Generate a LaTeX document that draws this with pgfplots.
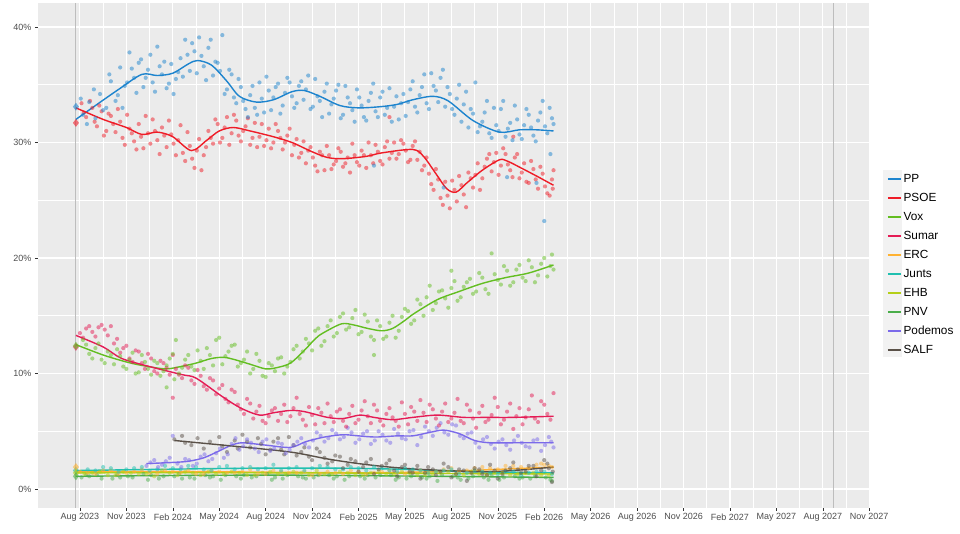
\documentclass[border=0pt]{standalone}
\usepackage{pgfplots}
\pgfplotsset{compat=1.18}
\usepackage{fontspec}
\setmainfont{Liberation Sans}
\definecolor{PP}{HTML}{1D84CE}
\definecolor{PSOE}{HTML}{EF1C27}
\definecolor{Vox}{HTML}{63BE21}
\definecolor{Sumar}{HTML}{E51C55}
\definecolor{ERC}{HTML}{FFB232}
\definecolor{Junts}{HTML}{20C0B0}
\definecolor{EHB}{HTML}{B5CF18}
\definecolor{PNV}{HTML}{4AAE4A}
\definecolor{Podemos}{HTML}{7B6AEA}
\definecolor{SALF}{HTML}{5A5148}
\definecolor{panel}{HTML}{EBEBEB}
\definecolor{keybg}{HTML}{F2F2F2}
\definecolor{ticklab}{HTML}{4D4D4D}
\definecolor{tickcol}{HTML}{333333}
\definecolor{elec}{HTML}{BDBDBD}
\pgfplotsset{
  pts/.style={only marks, mark=*, mark size=2.1pt, color=#1, forget plot,
    mark options={draw opacity=0, fill=#1, fill opacity=0.5}},
  big/.style={only marks, mark=diamond*, mark size=4pt, color=#1, forget plot,
    mark options={draw opacity=0, fill=#1, fill opacity=0.6}},
  trend/.style={color=#1, line width=1.4pt, smooth, tension=0.5, no marks, forget plot},
}
\begin{document}
\begin{tikzpicture}
\path[use as bounding box] (-38pt,-26pt) rectangle (922pt,508pt);
\fill[keybg] (845pt,151pt) rectangle (864pt,338pt);
\begin{axis}[
  at={(0pt,0pt)}, anchor=south west,
  scale only axis, width=832pt, height=505pt,
  xmin=4.29, xmax=58.05, ymin=-1.645, ymax=42.08,
  axis background/.style={fill=panel},
  axis line style={draw=none},
  grid=both,
  major grid style={white, line width=1.1pt},
  minor grid style={white, line width=0.55pt},
  minor tick num=1,
  minor tick length=0pt,
  major tick length=3pt,
  tick align=outside,
  tick pos=left,
  tick style={tickcol, line width=0.5pt},
  xtick={7,10,13,16,19,22,25,28,31,34,37,40,43,46,49,52,55,58},
  xticklabels={Aug 2023,Nov 2023,Feb 2024,May 2024,Aug 2024,Nov 2024,Feb 2025,May 2025,Aug 2025,Nov 2025,Feb 2026,May 2026,Aug 2026,Nov 2026,Feb 2027,May 2027,Aug 2027,Nov 2027},
  ytick={0,10,20,30,40},
  yticklabels={0\%,10\%,20\%,30\%,40\%},
  ticklabel style={font=\fontsize{9}{10}\selectfont, text=ticklab},
  xticklabel style={yshift=1pt},
  legend style={at={(1.0204,0.663)}, anchor=north west, draw=none, fill=none,
    inner sep=0pt, row sep=7.5pt, column sep=2pt,
    nodes={inner sep=0pt, text height=9pt, text depth=2.5pt},
    font=\fontsize{11.8}{13}\selectfont},
  legend cell align=left,
  legend image code/.code={\draw[#1] (0pt,0pt) -- (13pt,0pt);},
]
% election lines
\addplot[elec, line width=0.9pt, forget plot] coordinates {(6.74,-1.645) (6.74,42.08)};
\addplot[elec, line width=0.9pt, forget plot] coordinates {(55.68,-1.645) (55.68,42.08)};

% ---------- scatter: small parties ----------
\addplot[pts=PNV] coordinates {(7.1,1.0)(8.1,1.2)(9.1,0.9)(10.1,1.1)(11.1,1.3)(12.1,0.9)(13.1,1.1)(14.1,1.0)(15.1,1.2)(16.1,0.8)(17.1,1.1)(18.1,1.0)(19.1,1.3)(20.1,0.9)(21.1,1.1)(22.1,1.0)(23.1,1.2)(24.1,0.8)(25.1,1.1)(26.1,1.0)(27.1,1.2)(28.1,0.9)(29.1,1.0)(30.1,0.7)(31.1,1.1)(32.1,0.9)(33.1,1.0)(34.1,0.8)(35.1,1.1)(36.1,0.9)(37.1,1.0)(37.5,0.7)(7.6,1.1)(9.6,1.0)(11.6,1.2)(13.6,0.9)(15.6,1.1)(17.6,1.2)(19.6,1.0)(21.6,0.9)(23.6,1.1)(25.6,1.2)(27.6,1.0)(29.6,1.1)(31.6,0.8)(33.6,1.2)(35.6,1.0)(7.4,1.2)(8.4,0.9)(9.4,1.2)(10.4,1.0)(11.4,0.8)(12.4,1.1)(13.4,1.3)(14.4,0.9)(15.4,1.0)(16.4,1.2)(17.4,0.9)(18.4,1.1)(19.4,0.8)(20.4,1.2)(21.4,1.0)(22.4,1.2)(23.4,0.9)(24.4,1.1)(25.4,0.9)(26.4,1.2)(27.4,0.8)(28.4,1.1)(29.4,0.9)(30.4,1.2)(31.4,1.0)(32.4,1.1)(33.4,0.8)(34.4,1.0)(35.4,0.9)(36.4,1.1)(37.4,0.8)};
\addplot[pts=EHB] coordinates {(7.3,1.3)(8.3,1.5)(9.3,1.2)(10.3,1.4)(11.3,1.3)(12.3,1.6)(13.3,1.2)(14.3,1.4)(15.3,1.5)(16.3,1.3)(17.3,1.4)(18.3,1.2)(19.3,1.5)(20.3,1.3)(21.3,1.4)(22.3,1.6)(23.3,1.3)(24.3,1.4)(25.3,1.2)(26.3,1.5)(27.3,1.3)(28.3,1.4)(29.3,1.2)(30.3,1.4)(31.3,1.3)(32.3,1.5)(33.3,1.2)(34.3,1.4)(35.3,1.3)(36.3,1.4)(37.3,1.2)(7.8,1.4)(8.8,1.2)(9.8,1.5)(10.8,1.3)(11.8,1.1)(12.8,1.4)(13.8,1.5)(14.8,1.2)(15.8,1.3)(16.8,1.5)(17.8,1.2)(18.8,1.4)(19.8,1.3)(20.8,1.5)(21.8,1.2)(22.8,1.3)(23.8,1.5)(24.8,1.2)(25.8,1.4)(26.8,1.3)(27.8,1.5)(28.8,1.2)(29.8,1.3)(30.8,1.5)(31.8,1.2)(32.8,1.3)(33.8,1.4)(34.8,1.2)(35.8,1.4)(36.8,1.2)};
\addplot[pts=ERC] coordinates {(7.0,1.5)(8.0,1.3)(9.0,1.6)(10.0,1.4)(11.0,1.7)(12.0,1.3)(13.0,1.5)(14.0,1.6)(15.0,1.3)(16.0,1.5)(17.0,1.4)(18.0,1.7)(19.0,1.3)(20.0,1.5)(21.0,1.4)(22.0,1.2)(23.0,1.5)(24.0,1.3)(25.0,1.5)(26.0,1.4)(27.0,1.6)(28.0,1.3)(29.0,1.6)(30.0,1.5)(31.0,1.8)(32.0,1.6)(33.0,1.9)(34.0,1.7)(35.0,2.0)(36.0,1.8)(37.0,2.1)(37.5,1.9)(33.5,1.8)(34.5,2.0)(35.5,1.9)(36.5,2.1)(7.5,1.4)(8.5,1.6)(9.5,1.3)(10.5,1.5)(11.5,1.4)(12.5,1.6)(13.5,1.4)(14.5,1.3)(15.5,1.6)(16.5,1.4)(17.5,1.5)(18.5,1.3)(19.5,1.6)(20.5,1.4)(21.5,1.5)(22.5,1.3)(23.5,1.4)(24.5,1.6)(25.5,1.3)(26.5,1.5)(27.5,1.4)(28.5,1.5)(29.5,1.4)(30.5,1.7)(31.5,1.5)(32.5,1.8)(36.8,2.2)(37.3,2.0)};
\addplot[pts=Junts] coordinates {(7.5,1.7)(8.5,1.9)(9.5,1.5)(10.5,1.8)(11.5,1.6)(12.5,2.0)(13.5,1.7)(14.5,1.9)(15.5,1.6)(16.5,2.0)(17.5,1.8)(18.5,1.7)(19.5,2.1)(20.5,1.8)(21.5,1.6)(22.5,2.0)(23.5,1.7)(24.5,1.9)(25.5,1.6)(26.5,1.8)(27.5,1.5)(28.5,1.7)(29.5,1.4)(30.5,1.6)(31.5,1.3)(32.5,1.6)(33.5,1.4)(34.5,1.5)(35.5,1.2)(36.5,1.5)(37.5,1.3)(8.0,1.6)(9.0,1.8)(10.0,1.7)(11.0,1.9)(12.0,1.7)(13.0,1.8)(14.0,2.0)(15.0,1.7)(16.0,1.9)(17.0,1.7)(18.0,1.9)(19.0,1.8)(20.0,1.6)(21.0,1.9)(22.0,1.8)(23.0,1.9)(24.0,1.7)(25.0,1.8)(26.0,1.9)(27.0,1.6)(28.0,1.8)(29.0,1.6)(30.0,1.5)(31.0,1.7)(32.0,1.4)(33.0,1.5)(34.0,1.3)(35.0,1.5)(36.0,1.4)(37.0,1.5)};
\addplot[big=Junts] coordinates {(6.74,1.6)};
\addplot[big=ERC] coordinates {(6.74,1.9)};
\addplot[big=EHB] coordinates {(6.74,1.4)};
\addplot[big=PNV] coordinates {(6.74,1.1)};

% ---------- scatter: SALF, Podemos ----------
\addplot[pts=SALF] coordinates {(13.1,4.3)(13.6,4.6)(14.2,3.8)(15.0,3.5)(16.0,4.5)(16.5,3.2)(17.0,4.2)(17.5,4.7)(18.0,3.6)(18.5,4.4)(19.0,3.0)(19.5,4.1)(20.0,3.4)(20.5,4.5)(21.0,2.9)(21.5,3.6)(22.0,2.5)(22.5,3.2)(23.0,2.2)(23.5,2.9)(24.0,1.8)(24.5,2.6)(25.0,1.5)(25.5,2.3)(26.0,1.3)(26.5,2.0)(27.0,2.5)(27.5,1.1)(28.0,2.1)(28.5,1.4)(29.0,0.9)(29.5,1.9)(30.0,1.2)(30.5,2.2)(31.0,1.0)(31.5,1.7)(32.0,0.7)(32.5,1.8)(33.0,1.3)(33.5,2.1)(34.0,0.9)(34.5,1.6)(35.0,2.3)(35.5,1.4)(36.0,2.0)(36.5,1.1)(37.0,2.5)(37.5,0.6)(37.3,1.8)(13.8,4.0)(14.6,4.4)(15.4,4.1)(16.2,3.7)(17.2,3.5)(17.8,4.1)(18.7,3.9)(19.3,3.4)(19.8,4.4)(20.2,3.0)(20.8,3.8)(21.3,3.2)(21.8,2.8)(22.3,3.5)(22.8,2.7)(23.3,2.4)(23.8,2.8)(24.3,2.1)(24.8,2.4)(25.3,1.9)(25.8,2.6)(26.3,1.7)(26.8,2.2)(27.3,1.6)(27.8,1.9)(28.3,1.5)(28.8,2.0)(29.3,1.4)(29.8,1.7)(30.3,1.5)(30.8,1.9)(31.3,1.3)(31.8,1.6)(32.3,1.4)(32.8,1.7)(33.3,1.2)(33.8,1.6)(34.3,1.3)(34.8,1.8)(35.3,1.7)(35.8,1.5)(36.3,2.0)(36.8,1.6)(37.2,2.2)(37.55,1.5)};
\addplot[pts=Podemos] coordinates {(11.3,2.0)(11.8,2.5)(12.3,2.1)(12.8,2.7)(13.0,4.6)(13.3,2.2)(13.8,2.6)(14.3,2.0)(14.8,2.8)(15.3,2.4)(15.8,3.1)(16.3,2.7)(16.8,3.9)(17.3,3.4)(17.8,4.3)(18.3,3.5)(18.8,4.1)(19.3,3.3)(19.8,4.0)(20.3,3.1)(20.8,3.8)(21.3,4.4)(21.8,3.6)(22.3,4.9)(22.8,4.1)(23.3,5.1)(23.8,4.3)(24.3,5.3)(24.8,4.0)(25.3,4.8)(25.8,3.9)(26.3,5.0)(26.8,4.2)(27.3,5.2)(27.8,4.4)(28.3,5.0)(28.8,3.8)(29.3,5.4)(29.8,4.6)(30.3,5.7)(30.8,4.7)(31.3,5.5)(31.8,4.4)(32.3,4.9)(32.8,3.6)(33.3,4.5)(33.8,3.5)(34.3,4.3)(34.8,3.4)(35.3,4.6)(35.8,3.7)(36.3,4.2)(36.8,3.3)(37.3,4.5)(37.6,3.6)(11.55,2.3)(12.05,1.9)(12.55,2.4)(13.55,1.9)(14.05,2.5)(14.55,2.2)(15.05,3.0)(15.55,2.6)(16.05,3.5)(16.55,3.0)(17.05,4.4)(17.55,3.7)(18.05,4.0)(18.55,3.2)(19.05,4.3)(19.55,3.5)(20.05,3.9)(20.55,3.4)(21.05,4.1)(21.55,3.9)(22.05,4.2)(22.55,4.6)(23.05,4.4)(23.55,4.8)(24.05,4.5)(24.55,4.9)(25.05,4.3)(25.55,5.0)(26.05,4.2)(26.55,4.7)(27.05,4.0)(27.55,4.8)(28.05,4.3)(28.55,5.1)(29.05,4.5)(29.55,5.0)(30.05,5.3)(30.55,4.9)(31.05,5.6)(31.55,4.6)(32.05,4.8)(32.55,4.0)(33.05,4.3)(33.55,3.9)(34.05,4.1)(34.55,3.8)(35.05,4.2)(35.55,4.0)(36.05,3.6)(36.55,4.3)(37.05,3.8)(37.45,4.1)};

% ---------- scatter: Sumar, Vox ----------
\addplot[pts=Sumar] coordinates {(7.0,13.5)(7.4,13.9)(7.8,13.6)(8.2,14.0)(8.6,13.8)(9.0,14.1)(9.4,13.0)(9.8,12.2)(10.2,11.3)(10.6,12.0)(11.0,10.9)(11.4,11.7)(11.8,10.2)(12.2,11.1)(12.6,10.5)(13.0,11.6)(13.4,9.9)(13.8,10.7)(14.2,9.4)(14.6,10.3)(15.0,8.9)(15.4,9.6)(15.8,8.2)(16.2,9.0)(16.6,7.5)(17.0,8.4)(17.4,6.9)(17.8,7.8)(18.2,6.1)(18.6,7.2)(19.0,5.7)(19.4,6.8)(19.8,5.9)(20.2,7.3)(20.6,6.3)(21.0,7.9)(21.4,6.0)(21.8,7.1)(22.2,5.6)(22.6,6.6)(23.0,7.4)(23.4,5.8)(23.8,6.9)(24.2,5.4)(24.6,7.2)(25.0,6.0)(25.4,7.6)(25.8,5.7)(26.2,6.8)(26.6,5.5)(27.0,7.0)(27.4,5.9)(27.8,7.5)(28.2,5.6)(28.6,6.7)(29.0,7.7)(29.4,5.8)(29.8,6.9)(30.2,5.5)(30.6,7.4)(31.0,6.1)(31.4,7.8)(31.8,5.7)(32.2,6.8)(32.6,5.3)(33.0,7.2)(33.4,6.0)(33.8,7.9)(34.2,5.6)(34.6,6.7)(35.0,5.2)(35.4,7.0)(35.8,6.2)(36.2,8.1)(36.6,5.8)(37.0,7.3)(37.4,6.0)(37.6,8.3)(13.0,7.9)(7.2,13.1)(7.6,14.1)(8.0,13.2)(8.4,14.2)(8.8,13.3)(9.2,12.6)(9.6,11.8)(10.0,12.4)(10.4,11.0)(10.8,11.9)(11.2,10.4)(11.6,11.3)(12.0,10.0)(12.4,10.9)(12.8,9.9)(13.2,10.4)(13.6,9.6)(14.0,10.5)(14.4,9.1)(14.8,9.8)(15.2,8.6)(15.6,9.4)(16.0,8.7)(16.4,7.8)(16.8,8.6)(17.2,7.3)(17.6,6.5)(18.0,7.4)(18.4,6.7)(18.8,5.9)(19.2,6.3)(19.6,7.0)(20.0,6.5)(20.4,5.8)(20.8,7.0)(21.2,6.5)(21.6,5.5)(22.0,6.4)(22.4,7.0)(22.8,5.7)(23.2,6.3)(23.6,6.7)(24.0,5.9)(24.4,6.5)(24.8,5.7)(25.2,6.8)(25.6,6.3)(26.0,7.3)(26.4,5.9)(26.8,6.5)(27.2,6.2)(27.6,5.4)(28.0,6.5)(28.4,7.1)(28.8,5.9)(29.2,6.6)(29.6,7.3)(30.0,6.1)(30.4,6.7)(30.8,5.8)(31.2,6.6)(31.6,5.9)(32.0,7.3)(32.4,6.1)(32.8,6.6)(33.2,5.8)(33.6,6.4)(34.0,7.1)(34.4,6.0)(34.8,7.4)(35.2,6.3)(35.6,5.6)(36.0,6.9)(36.4,6.1)(36.8,7.6)(37.2,6.5)};
\addplot[pts=Vox] coordinates {(7.2,12.9)(7.6,11.7)(8.0,12.2)(8.4,11.2)(8.8,11.9)(9.2,10.8)(9.6,11.5)(10.0,10.4)(10.4,11.8)(10.8,10.1)(11.2,11.0)(11.6,9.9)(12.0,10.9)(12.4,10.2)(12.8,11.3)(13.2,12.9)(13.1,9.5)(13.6,10.5)(14.0,11.6)(14.4,10.3)(14.8,11.1)(15.2,12.2)(15.6,10.7)(16.0,13.1)(16.4,11.5)(16.8,12.4)(17.2,10.6)(17.6,11.2)(18.0,10.0)(18.4,11.7)(18.8,9.8)(19.2,10.9)(19.6,10.2)(20.0,11.4)(20.4,10.6)(20.8,12.1)(21.2,11.3)(21.6,13.0)(22.0,12.0)(22.4,13.9)(22.8,12.8)(23.2,14.6)(23.6,13.5)(24.0,15.2)(24.4,14.0)(24.8,15.5)(25.2,13.6)(25.6,14.5)(26.0,12.9)(26.4,14.1)(26.8,13.2)(27.2,15.0)(27.6,13.7)(28.0,15.6)(28.4,14.3)(28.8,16.4)(29.2,15.0)(29.6,17.6)(30.0,16.1)(30.4,17.2)(30.8,15.7)(31.2,18.0)(31.6,16.6)(32.0,17.9)(32.4,16.9)(32.8,18.7)(33.2,17.3)(33.6,20.4)(34.0,18.1)(34.4,19.3)(34.8,17.6)(35.2,19.0)(35.6,18.3)(36.0,19.8)(36.4,17.9)(36.8,19.5)(37.2,18.4)(37.5,20.3)(37.6,19.0)(26.0,11.6)(12.6,8.8)(31.0,18.9)(7.4,12.5)(7.8,11.3)(8.2,12.6)(8.6,10.9)(9.0,11.6)(9.4,12.1)(9.8,10.6)(10.2,11.2)(10.6,10.0)(11.0,11.6)(11.4,10.4)(11.8,11.1)(12.2,9.8)(12.6,10.7)(13.0,11.7)(13.4,10.0)(13.8,11.2)(14.2,10.6)(14.6,12.0)(15.0,10.4)(15.4,11.6)(15.8,12.9)(16.2,10.8)(16.6,11.9)(17.0,12.5)(17.4,10.9)(17.8,11.9)(18.2,10.4)(18.6,11.1)(19.0,9.7)(19.4,10.7)(19.8,11.3)(20.2,10.0)(20.6,11.0)(21.0,12.4)(21.4,11.9)(21.8,12.6)(22.2,13.7)(22.6,12.4)(23.0,14.1)(23.4,13.2)(23.8,14.9)(24.2,13.8)(24.6,14.8)(25.0,13.4)(25.4,15.1)(25.8,13.2)(26.2,14.6)(26.6,13.0)(27.0,14.4)(27.4,13.1)(27.8,14.9)(28.2,15.4)(28.6,14.6)(29.0,16.0)(29.4,16.6)(29.8,15.5)(30.2,17.1)(30.6,16.5)(31.0,17.4)(31.4,16.3)(31.8,17.5)(32.2,18.2)(32.6,17.1)(33.0,18.3)(33.4,16.9)(33.8,18.6)(34.2,17.7)(34.6,18.9)(35.0,17.9)(35.4,19.4)(35.8,18.0)(36.2,19.2)(36.6,18.5)(37.0,20.0)(37.4,19.3)};
\addplot[big=Sumar] coordinates {(6.74,12.3)};
\addplot[big=Vox] coordinates {(6.74,12.4)};

% ---------- scatter: PSOE, PP ----------
\addplot[pts=PSOE] coordinates {(7.1,33.4)(7.4,32.2)(7.8,33.0)(8.1,31.4)(8.4,32.7)(8.7,31.0)(9.0,32.3)(9.3,30.9)(9.6,31.8)(9.9,29.8)(10.2,31.2)(10.5,30.1)(10.8,31.6)(11.1,29.5)(11.4,30.8)(11.7,32.0)(12.0,30.2)(12.3,31.3)(12.6,29.6)(12.9,30.7)(13.2,28.9)(13.5,31.5)(13.8,28.4)(14.1,29.7)(14.4,27.8)(14.7,30.3)(15.0,28.9)(15.3,31.0)(15.6,29.9)(15.9,31.6)(16.2,30.4)(16.5,32.2)(16.8,30.8)(17.1,31.9)(17.4,30.1)(17.7,31.4)(18.0,29.8)(18.3,31.7)(18.6,30.5)(18.9,29.7)(19.2,31.2)(19.5,30.0)(19.8,31.0)(20.1,29.4)(20.4,30.6)(20.7,28.9)(21.0,30.3)(21.3,29.1)(21.6,28.2)(21.9,29.6)(22.2,28.0)(22.5,29.2)(22.8,27.6)(23.1,28.9)(23.4,28.1)(23.7,29.5)(24.0,27.9)(24.3,28.7)(24.6,29.9)(24.9,28.3)(25.2,29.3)(25.5,27.8)(25.8,28.9)(26.1,29.8)(26.4,28.4)(26.7,29.6)(27.0,28.6)(27.3,30.0)(27.6,29.0)(27.9,29.9)(28.2,28.3)(28.5,29.7)(28.8,28.5)(29.1,27.6)(29.4,28.7)(29.7,26.4)(30.0,27.7)(30.3,25.2)(30.6,26.6)(30.9,24.3)(31.2,25.9)(31.5,27.1)(31.8,25.5)(32.1,27.4)(32.4,26.1)(32.7,28.2)(33.0,26.9)(33.3,28.6)(33.6,27.5)(33.9,29.1)(34.2,28.0)(34.5,29.0)(34.8,27.6)(35.1,28.7)(35.4,26.9)(35.7,28.2)(36.0,26.5)(36.3,27.7)(36.6,26.0)(36.9,27.3)(37.2,25.6)(37.5,26.8)(37.6,27.6)(35.0,30.5)(27.0,32.2)(7.25,32.6)(7.65,33.6)(7.95,31.8)(8.25,33.2)(8.55,30.6)(8.85,32.5)(9.15,31.6)(9.45,32.9)(9.75,30.4)(10.05,32.4)(10.35,30.8)(10.65,29.4)(10.95,30.5)(11.25,32.3)(11.55,29.9)(11.85,31.0)(12.15,29.0)(12.45,30.6)(12.75,31.9)(13.05,29.9)(13.35,30.2)(13.65,29.1)(13.95,30.9)(14.25,28.6)(14.55,29.3)(14.85,27.6)(15.15,29.6)(15.45,30.4)(15.75,32.0)(16.05,30.0)(16.35,31.3)(16.65,29.8)(16.95,32.4)(17.25,30.6)(17.55,31.0)(17.85,32.1)(18.15,30.4)(18.45,29.6)(18.75,31.6)(19.05,30.2)(19.35,29.5)(19.65,31.6)(19.95,30.4)(20.25,30.0)(20.55,31.2)(20.85,29.8)(21.15,28.7)(21.45,30.1)(21.75,29.3)(22.05,28.7)(22.35,27.5)(22.65,28.9)(22.95,29.7)(23.25,27.7)(23.55,28.4)(23.85,29.2)(24.15,28.2)(24.45,27.4)(24.75,28.9)(25.05,28.0)(25.35,28.9)(25.65,30.0)(25.95,28.2)(26.25,29.2)(26.55,28.1)(26.85,30.1)(27.15,29.1)(27.45,28.6)(27.75,30.2)(28.05,29.3)(28.35,28.5)(28.65,30.1)(28.95,29.2)(29.25,28.0)(29.55,27.3)(29.85,25.9)(30.15,26.8)(30.45,24.6)(30.75,25.4)(31.05,26.7)(31.35,24.9)(31.65,26.3)(31.95,24.4)(32.25,26.9)(32.55,27.2)(32.85,25.9)(33.15,27.9)(33.45,29.0)(33.75,28.3)(34.05,27.2)(34.35,29.5)(34.65,28.1)(34.95,27.0)(35.25,29.0)(35.55,27.4)(35.85,26.6)(36.15,28.4)(36.45,26.8)(36.75,27.9)(37.05,26.2)(37.35,25.4)(37.55,26.0)};
\addplot[pts=PP] coordinates {(7.2,32.4)(7.6,33.5)(8.0,32.1)(8.3,34.2)(8.7,33.0)(9.0,35.3)(9.3,33.6)(9.6,36.5)(9.9,34.9)(10.2,37.8)(10.5,35.6)(10.8,36.9)(11.1,34.8)(11.4,36.3)(11.7,35.2)(12.0,38.3)(12.3,35.9)(12.6,34.7)(12.9,36.8)(13.2,35.5)(13.5,37.3)(13.8,38.9)(14.1,36.2)(14.4,37.9)(14.7,39.1)(15.0,36.6)(15.3,38.2)(15.6,35.8)(15.9,36.9)(16.2,39.3)(16.5,34.6)(16.8,35.9)(17.1,33.4)(17.4,34.8)(17.7,32.9)(18.0,34.1)(18.3,33.0)(18.6,35.2)(18.9,32.6)(19.2,34.5)(19.5,33.9)(19.8,35.1)(20.1,33.2)(20.4,35.6)(20.7,34.0)(21.0,33.4)(21.3,35.3)(21.6,34.6)(21.9,32.9)(22.2,35.5)(22.5,33.6)(22.8,34.4)(23.1,32.5)(23.4,33.8)(23.7,35.0)(24.0,32.4)(24.3,33.9)(24.6,32.8)(24.9,34.6)(25.2,33.2)(25.5,31.9)(25.8,34.3)(26.1,32.7)(26.4,33.9)(26.7,32.4)(27.0,34.7)(27.3,33.1)(27.6,32.0)(27.9,34.2)(28.2,33.5)(28.5,35.3)(28.8,32.6)(29.1,34.8)(29.4,33.4)(29.7,36.0)(30.0,34.5)(30.3,35.6)(30.6,33.1)(30.9,34.2)(31.2,32.4)(31.5,35.0)(31.8,33.3)(32.1,31.3)(32.4,32.5)(32.7,30.9)(33.0,31.8)(33.3,33.6)(33.6,30.4)(33.9,31.5)(34.2,32.9)(34.5,30.5)(34.8,31.7)(35.1,33.2)(35.4,30.7)(35.7,31.5)(36.0,32.4)(36.3,30.6)(36.6,31.9)(36.9,33.6)(37.2,30.8)(37.5,32.1)(37.4,29.0)(37.0,23.2)(36.5,26.5)(30.5,26.1)(26.0,28.0)(34.6,27.0)(7.05,33.8)(7.45,31.6)(7.9,34.6)(8.5,32.8)(8.9,35.9)(9.45,34.1)(9.75,33.0)(10.05,35.2)(10.35,36.4)(10.65,34.3)(10.95,37.2)(11.25,35.6)(11.55,37.6)(11.85,34.4)(12.15,36.6)(12.45,37.0)(12.75,35.1)(13.05,34.2)(13.35,36.1)(13.65,35.7)(13.95,37.6)(14.25,38.6)(14.55,36.0)(14.85,37.5)(15.15,35.4)(15.45,38.9)(15.75,37.0)(16.05,36.2)(16.35,34.2)(16.65,36.3)(16.95,33.9)(17.25,35.5)(17.55,33.6)(17.85,32.2)(18.15,34.9)(18.45,32.4)(18.75,33.8)(19.05,35.7)(19.35,32.8)(19.65,34.8)(19.95,32.5)(20.25,34.3)(20.55,35.2)(20.85,33.0)(21.15,34.9)(21.45,33.7)(21.75,35.8)(22.05,33.1)(22.35,34.0)(22.65,32.2)(22.95,35.1)(23.25,33.3)(23.55,34.5)(23.85,32.1)(24.15,34.9)(24.45,33.4)(24.75,31.8)(25.05,33.9)(25.35,32.2)(25.65,33.6)(25.95,35.1)(26.25,32.2)(26.55,34.4)(26.85,33.0)(27.15,31.8)(27.45,34.0)(27.75,33.4)(28.05,32.3)(28.35,34.6)(28.65,33.1)(28.95,34.1)(29.25,35.9)(29.55,32.9)(29.85,34.9)(30.15,33.5)(30.45,36.3)(30.75,34.8)(31.05,32.9)(31.35,33.8)(31.65,31.8)(31.95,34.4)(32.25,32.9)(32.55,35.2)(32.85,31.4)(33.15,32.6)(33.45,30.8)(33.75,33.0)(34.05,31.0)(34.35,33.6)(34.65,31.2)(34.95,30.2)(35.25,32.0)(35.55,30.3)(35.85,32.9)(36.15,31.3)(36.45,30.1)(36.75,32.6)(37.05,31.4)(37.35,33.0)(37.6,31.6)};
\addplot[big=PSOE] coordinates {(6.74,31.7)};
\addplot[big=PP] coordinates {(6.74,33.1)};

% ---------- trend lines ----------
\addplot[trend=PP] coordinates {(6.74,32.0)(8.0,33.2)(9.5,34.6)(11.0,35.9)(12.0,35.8)(13.0,36.0)(14.0,36.8)(14.6,37.1)(15.5,36.7)(16.5,35.3)(17.3,34.0)(18.4,33.5)(19.5,33.7)(20.7,34.4)(21.5,34.5)(22.5,34.0)(23.8,33.2)(25.0,33.0)(26.4,33.1)(27.5,33.3)(28.5,33.7)(29.8,34.0)(30.8,33.6)(32.4,31.9)(34.1,30.9)(35.4,31.1)(36.5,31.1)(37.6,31.0)};
\addplot[trend=PSOE] coordinates {(6.74,33.0)(8.5,32.0)(10.0,31.3)(11.0,30.7)(12.0,30.9)(13.0,30.5)(14.2,29.3)(15.2,30.2)(16.0,31.0)(16.9,31.3)(18.0,31.0)(19.5,30.5)(20.7,30.0)(22.0,29.2)(23.0,28.7)(24.0,28.6)(25.5,28.8)(26.5,29.1)(28.5,29.4)(29.2,28.8)(30.0,27.3)(30.7,26.0)(31.3,25.7)(32.0,26.5)(33.0,27.6)(34.1,28.5)(34.6,28.4)(35.5,27.8)(36.5,27.1)(37.6,26.3)};
\addplot[trend=Vox] coordinates {(6.74,12.5)(8.5,11.6)(10.0,11.0)(11.0,10.7)(12.5,10.4)(13.5,10.6)(14.5,10.9)(15.5,11.3)(16.3,11.4)(17.0,11.2)(18.0,10.8)(19.0,10.4)(19.7,10.5)(20.6,10.9)(21.5,12.0)(22.2,13.0)(22.7,13.5)(23.9,14.3)(24.7,14.2)(25.6,13.9)(26.5,13.7)(27.2,13.9)(28.0,14.6)(28.6,15.2)(30.1,16.4)(31.5,17.1)(33.0,17.8)(34.5,18.3)(36.0,18.7)(37.6,19.4)};
\addplot[trend=Sumar] coordinates {(6.74,13.3)(8.5,12.3)(9.7,11.3)(11.5,10.6)(13.6,9.9)(14.5,9.6)(16.2,8.0)(17.4,7.0)(18.6,6.4)(19.5,6.6)(20.6,6.8)(21.5,6.7)(23.0,6.2)(24.0,6.1)(25.1,6.4)(26.0,6.2)(27.2,6.0)(28.5,6.2)(30.1,6.4)(31.8,6.2)(33.3,6.2)(35.0,6.2)(37.6,6.3)};
\addplot[trend=ERC] coordinates {(6.74,1.5)(15,1.5)(25,1.4)(30,1.5)(34,1.7)(37.6,1.9)};
\addplot[trend=Junts] coordinates {(6.74,1.6)(12,1.7)(18,1.8)(24,1.8)(28,1.7)(32,1.5)(37.6,1.4)};
\addplot[trend=EHB] coordinates {(6.74,1.4)(20,1.4)(37.6,1.3)};
\addplot[trend=PNV] coordinates {(6.74,1.1)(20,1.2)(37.6,1.0)};
\addplot[trend=Podemos] coordinates {(11.3,2.2)(13.0,2.3)(14.0,2.4)(15.0,2.7)(16.0,3.3)(16.8,3.8)(17.5,4.0)(19.0,3.8)(20.6,3.6)(21.6,4.1)(22.8,4.5)(24.0,4.7)(25.0,4.6)(26.1,4.5)(27.5,4.6)(28.5,4.6)(29.6,4.9)(30.5,5.1)(31.5,4.8)(32.5,4.2)(33.5,4.0)(35.0,4.0)(37.6,4.0)};
\addplot[trend=SALF] coordinates {(13.1,4.2)(17.0,3.7)(20.6,3.2)(23.0,2.6)(25.0,2.2)(27.0,1.9)(29.0,1.7)(31.5,1.55)(33.5,1.5)(35.5,1.65)(37.6,1.9)};

% ---------- legend ----------
\addlegendimage{color=PP, line width=1.4pt}\addlegendentry{PP}
\addlegendimage{color=PSOE, line width=1.4pt}\addlegendentry{PSOE}
\addlegendimage{color=Vox, line width=1.4pt}\addlegendentry{Vox}
\addlegendimage{color=Sumar, line width=1.4pt}\addlegendentry{Sumar}
\addlegendimage{color=ERC, line width=1.4pt}\addlegendentry{ERC}
\addlegendimage{color=Junts, line width=1.4pt}\addlegendentry{Junts}
\addlegendimage{color=EHB, line width=1.4pt}\addlegendentry{EHB}
\addlegendimage{color=PNV, line width=1.4pt}\addlegendentry{PNV}
\addlegendimage{color=Podemos, line width=1.4pt}\addlegendentry{Podemos}
\addlegendimage{color=SALF, line width=1.4pt}\addlegendentry{SALF}
\end{axis}
\end{tikzpicture}
\end{document}
